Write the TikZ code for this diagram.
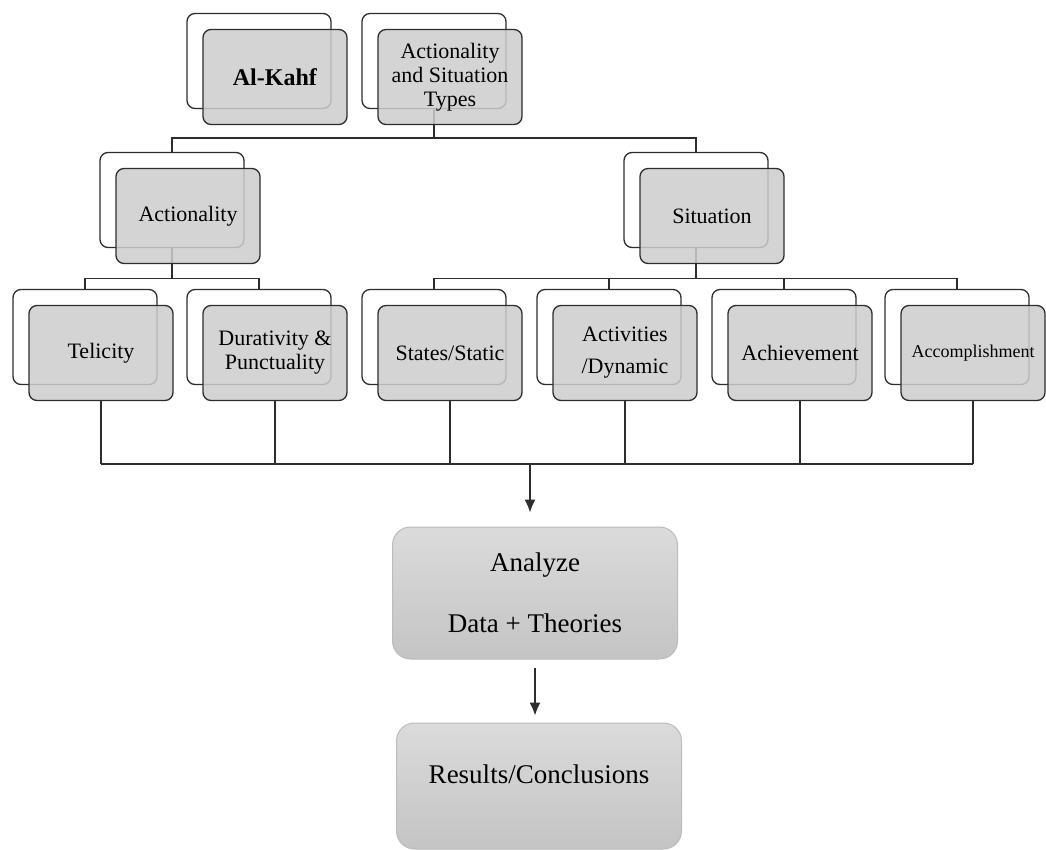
\documentclass[tikz,border=0pt]{standalone}
\usepackage{fontspec}
\setmainfont{Liberation Serif}
\usepackage{tikz}
\usetikzlibrary{calc,arrows.meta}
\definecolor{boxgray}{RGB}{205,205,205}
\definecolor{boxline}{RGB}{45,45,45}
\definecolor{flowtop}{RGB}{219,219,219}
\definecolor{flowbottom}{RGB}{196,196,196}
\definecolor{flowline}{RGB}{188,188,188}
\tikzset{
	backbox/.style={draw=boxline,fill=white,line width=1.3pt,rounded corners=8pt,minimum width=144pt,minimum height=95pt},
	frontbox/.style={draw=boxline,fill=boxgray,fill opacity=0.85,text opacity=1,line width=1.3pt,rounded corners=8pt,
		minimum width=144pt,minimum height=95pt,inner sep=2pt,align=center,font=\fontsize{22}{24}\selectfont},
	flowbox/.style={draw=flowline,top color=flowtop,bottom color=flowbottom,line width=1pt,rounded corners=18pt,
		minimum width=285pt,align=center,font=\fontsize{27}{30}\selectfont},
	tree/.style={draw=boxline,line width=1.3pt}
}

\begin{document}
\begin{tikzpicture}[x=1pt,y=-1pt]
	\useasboundingbox (0,0) rectangle (1046,850);

	%back boxes
	\node[backbox] (kahfB) at (259,61) {};
	\node[backbox] (astB)  at (434,61) {};
	\node[backbox] (actB)  at (172,200) {};
	\node[backbox] (sitB)  at (696,200) {};
	\node[backbox] (telB)  at (85,337) {};
	\node[backbox] (durB)  at (259,337) {};
	\node[backbox] (staB)  at (434,337) {};
	\node[backbox] (dynB)  at (609,337) {};
	\node[backbox] (achB)  at (784,337) {};
	\node[backbox] (accB)  at (957,337) {};

	%tree lines (drawn before the front boxes, so they show through)
	\draw[tree] (astB.south) -- ++(0,29) coordinate (forkT);
	\draw[tree] (actB.north) |- (forkT) -| (sitB.north);
	\draw[tree] (actB.south) -- ++(0,30) coordinate (forkA);
	\draw[tree] (telB.north) |- (forkA) -| (durB.north);
	\draw[tree] (sitB.south) -- ++(0,30) coordinate (forkS);
	\draw[tree] (staB.north) |- (forkS) -| (accB.north);
	\draw[tree] (dynB.north) -- (dynB.north |- forkS);
	\draw[tree] (achB.north) -- (achB.north |- forkS);

	%front boxes
	\node[frontbox,font=\fontsize{24}{26}\selectfont] (kahf) at (275,77) {\textbf{Al-Kahf}};
	\node[frontbox] (ast) at (450,77) {Actionality\\and Situation\\Types};
	\node[frontbox] (act) at (188,216) {Actionality};
	\node[frontbox] (sit) at (712,216) {Situation};
	\node[frontbox] (tel) at (101,353) {Telicity};
	\node[frontbox] (dur) at (275,353) {Durativity \&\\Punctuality};
	\node[frontbox] (sta) at (450,353) {States/Static};
	\node[frontbox] (dyn) at (625,353) {Activities\\[8pt]/Dynamic};
	\node[frontbox] (ach) at (800,353) {Achievement};
	\node[frontbox,font=\fontsize{18}{20}\selectfont] (acc) at (973,353) {Accomplishment};

	%collecting line
	\coordinate (bus) at (530,464);
	\draw[tree] (tel.south) -- (tel.south |- bus);
	\draw[tree] (dur.south) -- (dur.south |- bus);
	\draw[tree] (sta.south) -- (sta.south |- bus);
	\draw[tree] (dyn.south) -- (dyn.south |- bus);
	\draw[tree] (ach.south) -- (ach.south |- bus);
	\draw[tree] (acc.south) -- (acc.south |- bus);
	\draw[tree] (tel.south |- bus) -- (acc.south |- bus);

	%analysis steps
	\node[flowbox,minimum height=132pt] (analyze) at (535,593) {Analyze\\[31pt]Data + Theories};
	\node[flowbox,minimum height=126pt,text depth=24pt] (results) at (539,786) {Results/Conclusions};

	\draw[tree,->,>={Latex[length=13pt,width=11pt]},shorten >=14pt] (bus) -- (bus |- analyze.north);
	\draw[tree,->,>={Latex[length=13pt,width=11pt]},shorten <=8pt,shorten >=7pt] (analyze.south) -- (analyze.south |- results.north);
\end{tikzpicture}
\end{document}
